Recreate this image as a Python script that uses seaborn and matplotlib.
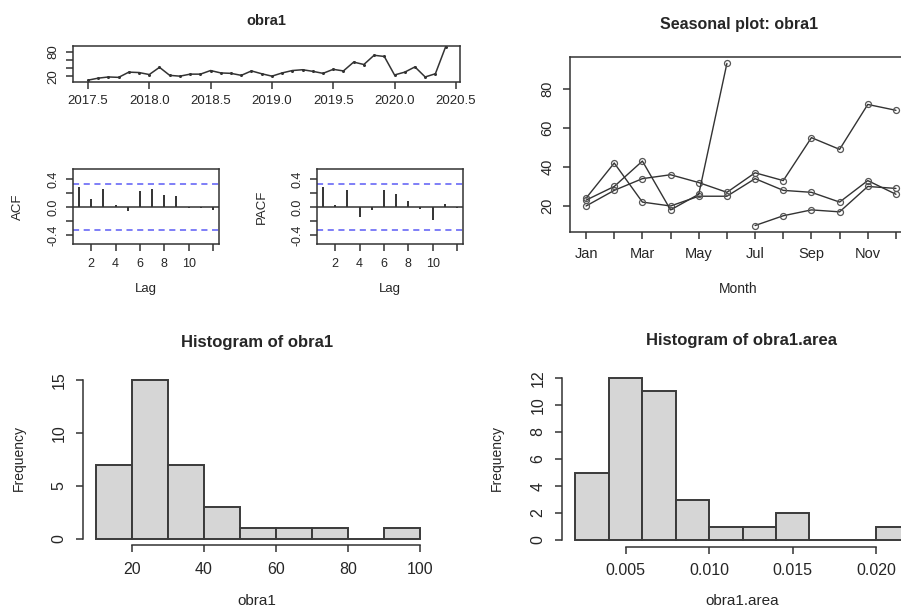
import numpy as np
import pandas as pd
import matplotlib
matplotlib.use("Agg")
import matplotlib.pyplot as plt
import seaborn as sns

# ---------------- data ----------------
months = ["Jan", "Feb", "Mar", "Apr", "May", "Jun",
          "Jul", "Aug", "Sep", "Oct", "Nov", "Dec"]
obra1_2017 = [10, 15, 18, 17, 30, 29]                              # Jul-Dec
obra1_2018 = [24, 42, 22, 20, 25, 25, 34, 28, 27, 22, 33, 26]
obra1_2019 = [20, 28, 34, 36, 32, 27, 37, 33, 55, 49, 72, 69]
obra1_2020 = [23, 30, 43, 18, 26, 93]                              # Jan-Jun
year_start_month = {2017: 7, 2018: 1, 2019: 1, 2020: 1}

acf_lags = [1, 2, 3, 4, 5, 6, 7, 8, 9, 10, 11, 12]
acf_vals = [0.284, 0.11, 0.255, 0.02, -0.058, 0.23, 0.255, 0.17, 0.16, -0.015, -0.015, -0.04]
pacf_vals = [0.284, 0.025, 0.245, -0.14, -0.043, 0.245, 0.19, 0.09, -0.03, -0.19, 0.04, -0.01]
conf_limit = 0.327

ts_ticks = [2017.5, 2018.0, 2018.5, 2019.0, 2019.5, 2020.0, 2020.5]
hist_breaks = [10, 20, 30, 40, 50, 60, 70, 80, 90, 100]
area_breaks = [0.002, 0.004, 0.006, 0.008, 0.010, 0.012, 0.014, 0.016, 0.018, 0.020, 0.022]
area_counts = [5, 12, 11, 3, 1, 1, 2, 0, 0, 1]

# ---------------- table ----------------
rows = []
for yr, vals in [(2017, obra1_2017), (2018, obra1_2018), (2019, obra1_2019), (2020, obra1_2020)]:
    m0 = year_start_month[yr]
    for i, v in enumerate(vals):
        m = m0 + i
        rows.append({"year": yr, "month": m, "value": v, "time": yr + (m - 1) / 12})
df = pd.DataFrame(rows)

# ---------------- style ----------------
sns.set_style("white")
plt.rcParams["font.family"] = ["Liberation Sans", "DejaVu Sans"]
TXT = "#262626"
LN = "#333333"
plt.rcParams["text.color"] = TXT
plt.rcParams["axes.labelcolor"] = TXT
plt.rcParams["xtick.color"] = LN
plt.rcParams["ytick.color"] = LN
plt.rcParams["xtick.labelcolor"] = TXT
plt.rcParams["ytick.labelcolor"] = TXT

W, H = 901, 610
fig = plt.figure(figsize=(W / 100, H / 100), dpi=100)
fig.patch.set_facecolor("white")


def ax_px(l, t, r, b):
    return fig.add_axes([l / W, 1 - b / H, (r - l) / W, (b - t) / H])


def rstyle(ax, fs, box=True, pad=3):
    for s in ax.spines.values():
        s.set_color(LN)
        s.set_linewidth(1.1)
        s.set_visible(box)
    ax.tick_params(axis="both", direction="out", length=5, width=1.1,
                   labelsize=fs, pad=pad, bottom=True, left=True)
    ax.tick_params(axis="y", labelrotation=90)
    for lab in ax.get_yticklabels():
        lab.set_va("center")
    ax.set_xlabel("")
    ax.set_ylabel("")
    ax.grid(False)


def ftext(x, y, s, **kw):
    fig.text(x / W, 1 - y / H, s, **kw)


# ---------------- time series ----------------
ax = ax_px(73, 45.5, 460, 81.5)
sns.lineplot(data=df, x="time", y="value", ax=ax, color=LN, lw=1.1,
             marker="o", markersize=2.2, markeredgewidth=0, sort=True)
ax.set_xlim(2017.378, 2020.534)
ax.set_ylim(6.7, 96.3)
ax.set_xticks(ts_ticks)
ax.set_xticklabels([f"{t:.1f}" for t in ts_ticks])
ax.set_yticks([20, 40, 60, 80])
ax.set_yticklabels(["20", "", "", "80"])
rstyle(ax, 9.5, pad=5)
for lab in ax.get_yticklabels():
    lab.set_va("center")
ftext(266, 25, "obra1", ha="center", va="baseline", fontsize=10.5, fontweight="bold")

# ---------------- ACF / PACF ----------------
for (l, r, vals, name, lx) in [(73, 219, acf_vals, "ACF", 18), (317, 463, pacf_vals, "PACF", 262)]:
    ax = ax_px(l, 169, r, 244)
    ax.vlines(acf_lags, 0, vals, color=LN, lw=1.4)
    ax.axhline(0, color=LN, lw=1.1)
    for c in (conf_limit, -conf_limit):
        ax.axhline(c, color="#5b5bf5", lw=1.1, ls=(0, (4, 3)))
    ax.set_xlim(0.5, 12.5)
    ax.set_ylim(-0.53, 0.54)
    ax.set_xticks([2, 4, 6, 8, 10, 12])
    ax.set_xticklabels(["2", "4", "6", "8", "10", ""])
    ax.set_yticks([-0.4, -0.2, 0.0, 0.2, 0.4])
    ax.set_yticklabels(["-0.4", "", "0.0", "", "0.4"])
    rstyle(ax, 9, pad=5)
    for lab in ax.get_yticklabels():
        lab.set_va("center")
    ftext(lx, 207, name, ha="center", va="center", rotation=90, fontsize=9.5)
    ftext((l + r) / 2, 292, "Lag", ha="center", va="baseline", fontsize=9.5)

# ---------------- seasonal plot ----------------
ax = ax_px(570, 57, 912, 232)
for yr in [2017, 2018, 2019, 2020]:
    sub = df[df["year"] == yr]
    sns.lineplot(data=sub, x="month", y="value", ax=ax, color=LN, lw=1.0,
                 marker="o", markersize=4.3, markerfacecolor="none",
                 markeredgecolor="#555555", markeredgewidth=0.9, estimator=None)
ax.set_xlim(0.43, 12.57)
ax.set_ylim(6.68, 96.3)
ax.set_xticks(range(1, 13))
ax.set_xticklabels([m if i % 2 == 0 else "" for i, m in enumerate(months)])
ax.set_yticks([20, 40, 60, 80])
rstyle(ax, 10.5, pad=6)
for lab in ax.get_yticklabels():
    lab.set_va("center")
ftext(739, 29.5, "Seasonal plot: obra1", ha="center", va="baseline", fontsize=11.5, fontweight="bold")
ftext(738, 293, "Month", ha="center", va="baseline", fontsize=10)

# ---------------- histogram obra1 ----------------
ax = ax_px(83, 374, 433, 545)
edges = np.array(hist_breaks, dtype=float)
edges[1:] += 1e-6   # right-closed intervals like R's hist()
sns.histplot(x=df["value"], bins=edges, ax=ax, color="#D6D6D6", alpha=1,
             edgecolor="#3a3a3a", linewidth=1.4)
ax.set_xlim(6.4, 103.6)
ax.set_ylim(-0.6, 15.6)
ax.set_xticks([20, 40, 60, 80, 100])
ax.set_yticks([0, 5, 10, 15])
rstyle(ax, 11.5, box=False, pad=7)
ax.spines["left"].set_visible(True)
ax.spines["bottom"].set_visible(True)
ax.spines["left"].set_bounds(0, 15)
ax.spines["bottom"].set_bounds(20, 100)
for lab in ax.get_yticklabels():
    lab.set_va("center")
ftext(257, 346.5, "Histogram of obra1", ha="center", va="baseline", fontsize=12, fontweight="bold")
ftext(257, 605, "obra1", ha="center", va="baseline", fontsize=11)
ftext(19, 458, "Frequency", ha="center", va="center", rotation=90, fontsize=10)

# ---------------- histogram obra1.area ----------------
ax = ax_px(562, 371.5, 923, 546.5)
mids = [(a + b) / 2 for a, b in zip(area_breaks[:-1], area_breaks[1:])]
sns.histplot(x=mids, weights=area_counts, bins=area_breaks, ax=ax, color="#D6D6D6",
             alpha=1, edgecolor="#3a3a3a", linewidth=1.4)
ax.set_xlim(0.0012, 0.0228)
ax.set_ylim(-0.48, 12.48)
ax.set_xticks([0.005, 0.010, 0.015, 0.020])
ax.set_xticklabels(["0.005", "0.010", "0.015", "0.020"])
ax.set_yticks([0, 2, 4, 6, 8, 10, 12])
rstyle(ax, 11.5, box=False, pad=7)
ax.spines["left"].set_visible(True)
ax.spines["bottom"].set_visible(True)
ax.spines["left"].set_bounds(0, 12)
ax.spines["bottom"].set_bounds(0.005, 0.020)
for lab in ax.get_yticklabels():
    lab.set_va("center")
ftext(742, 345, "Histogram of obra1.area", ha="center", va="baseline", fontsize=12, fontweight="bold")
ftext(742, 605, "obra1.area", ha="center", va="baseline", fontsize=11)
ftext(497, 458, "Frequency", ha="center", va="center", rotation=90, fontsize=10)

fig.savefig("out.png", dpi=100, facecolor="white")
